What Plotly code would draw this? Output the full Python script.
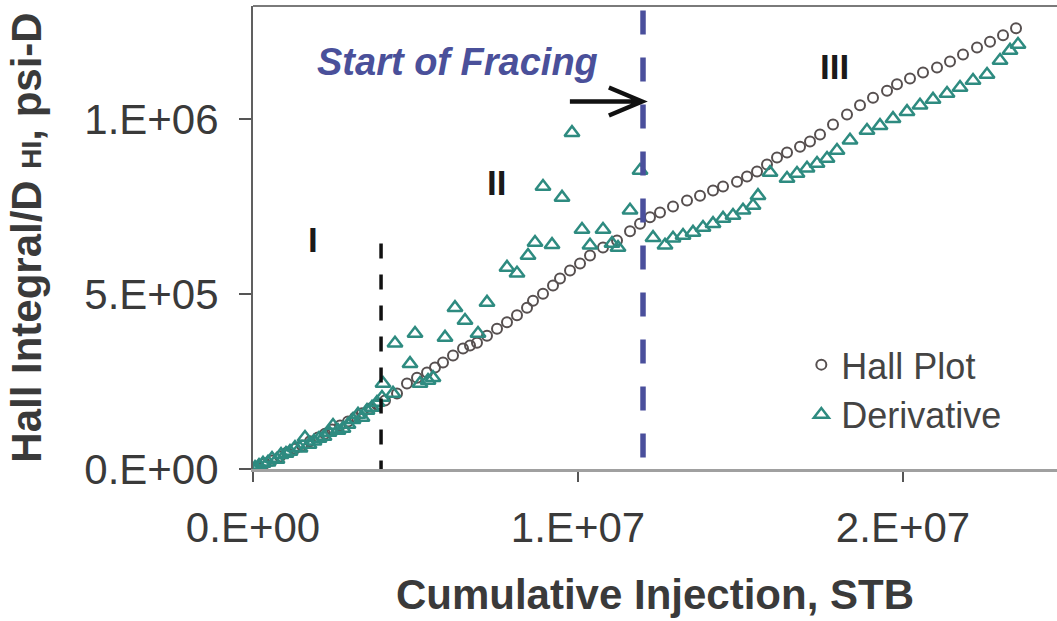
import numpy as np
import plotly.graph_objects as go

# Hall plot: cumulative injection (MMSTB) vs Hall integral (thousand psi-D)
hall_inj_mmstb = [0, 0.154, 0.369, 0.585, 0.831, 1.046, 1.292, 1.508, 1.754, 2.000,
                  2.215, 2.431, 2.677, 2.923, 3.138, 3.354, 3.600, 3.815, 4.062, 4.431,
                  4.738, 5.046, 5.354, 5.600, 5.846, 6.154, 6.462, 6.677, 6.892, 7.200,
                  7.508, 7.815, 8.123, 8.431, 8.615, 8.923, 9.231, 9.446, 9.754, 10.062,
                  10.369, 10.769, 11.200, 11.600, 11.908, 12.215, 12.523, 12.923, 13.354, 13.754,
                  14.154, 14.462, 14.892, 15.200, 15.508, 15.815, 16.123, 16.431, 16.831, 17.138,
                  17.446, 17.846, 18.277, 18.677, 19.077, 19.508, 19.815, 20.215, 20.615, 21.046,
                  21.446, 21.846, 22.277, 22.677, 23.077, 23.477]
hall_integral_k = [0, 7, 16, 24, 36, 47, 58, 67, 79, 90,
                   101, 113, 124, 136, 147, 159, 173, 184, 196, 216,
                   244, 261, 276, 290, 304, 324, 344, 353, 361, 381,
                   401, 419, 439, 461, 481, 501, 524, 544, 567, 587,
                   610, 633, 653, 679, 701, 719, 733, 750, 767, 781,
                   796, 807, 821, 836, 850, 870, 890, 904, 921, 936,
                   956, 984, 1013, 1039, 1061, 1081, 1099, 1116, 1133, 1147,
                   1164, 1184, 1204, 1221, 1239, 1259]

# Derivative of the Hall integral
deriv_inj_mmstb = [0.062, 0.185, 0.308, 0.462, 0.585, 0.738, 0.862, 1.015, 1.138, 1.292,
                   1.446, 1.600, 1.723, 1.877, 2.031, 2.185, 2.338, 2.462, 2.615, 2.769,
                   2.923, 3.077, 3.231, 3.354, 3.508, 3.662, 3.815, 3.969, 4.000,
                   4.308, 4.369, 4.831, 4.985, 5.138, 5.385, 5.538, 5.908, 6.215, 6.523,
                   6.923, 7.200, 7.815, 8.123, 8.462, 8.677, 8.923, 9.200, 9.508, 9.815,
                   10.123, 10.369, 10.769, 11.046, 11.231, 11.600, 11.908,
                   12.308, 12.677, 12.923, 13.231, 13.538, 13.846, 14.154, 14.462, 14.769, 15.077,
                   15.385, 15.538, 15.908, 16.431, 16.738, 17.046, 17.354, 17.662, 17.969, 18.369,
                   18.892, 19.292, 19.692, 20.123, 20.523, 20.923, 21.354, 21.754, 22.154, 22.585,
                   22.985, 23.292, 23.538]
deriv_value_k = [4, 10, 16, 19, 30, 27, 41, 44, 50, 61,
                 59, 90, 70, 79, 87, 93, 104, 124, 110, 116,
                 127, 141, 156, 147, 167, 176, 190, 204, 244,
                 216, 359, 301, 387, 244, 253, 261, 376, 461, 424,
                 387, 476, 576, 559, 610, 647, 807, 641, 776, 961,
                 684, 639, 684, 644, 633, 739, 853,
                 661, 639, 659, 667, 676, 690, 701, 716, 724, 739,
                 753, 781, 847, 830, 844, 859, 873, 887, 910, 939,
                 967, 981, 1001, 1021, 1039, 1056, 1073, 1090, 1110, 1127,
                 1167, 1196, 1213]

x_tick_vals = [0, 1e7, 2e7]
x_tick_text = ["0.E+00", "1.E+07", "2.E+07"]
y_tick_vals = [0, 5e5, 1e6]
y_tick_text = ["0.E+00", "5.E+05", "1.E+06"]

# Regime boundaries (STB) and annotation positions
regime_I_end = 3.94e6
regime_I_line_top = 6.44e5
fracing_start = 1.20e7
fracing_line_top = 1.31e6

FONT = "Liberation Sans, Arial, sans-serif"

fig = go.Figure()
fig.add_trace(go.Scatter(
    x=np.array(hall_inj_mmstb) * 1e6, y=np.array(hall_integral_k) * 1e3,
    mode="markers", name="Hall Plot",
    marker=dict(symbol="circle-open", size=10, color="#575050", line=dict(width=2)),
))
fig.add_trace(go.Scatter(
    x=np.array(deriv_inj_mmstb) * 1e6, y=np.array(deriv_value_k) * 1e3,
    mode="markers", name="Derivative",
    marker=dict(symbol="triangle-up-open", size=13, color="#2e8b80", line=dict(width=2.5)),
))

# dashed boundary lines
fig.add_shape(type="line", xref="x", yref="y", x0=regime_I_end, x1=regime_I_end,
              y0=regime_I_line_top, y1=0, line=dict(color="#111111", width=3.5, dash="15px,16px"),
              layer="above")
fig.add_shape(type="line", xref="x", yref="y", x0=fracing_start, x1=fracing_start,
              y0=fracing_line_top, y1=0, line=dict(color="#4a4f9c", width=5.5, dash="24px,23px"),
              layer="above")
# top frame line
fig.add_shape(type="line", xref="paper", yref="paper", x0=0, x1=1, y0=1, y1=1,
              line=dict(color="#7a7a7a", width=2))

# arrow pointing at the start of fracing
arrow_y = 1.05e6
arrow_tail = 9.75e6
arrow_tip = 11.97e6
arm_x = 10.95e6
fig.add_shape(type="path", xref="x", yref="y",
              path=(f"M {arrow_tail},{arrow_y} L {arrow_tip},{arrow_y} "
                    f"M {arm_x},{arrow_y + 0.04e6} L {arrow_tip},{arrow_y} L {arm_x},{arrow_y - 0.04e6}"),
              line=dict(color="#111111", width=4.5))

fig.add_annotation(x=6.28e6, y=1.163e6, xref="x", yref="y", text="<b><i>Start of Fracing</i></b>",
                   showarrow=False, font=dict(family=FONT, size=38, color="#4a509a"))
for label, lx, ly in [("I", 1.86e6, 6.55e5), ("II", 7.5e6, 8.2e5), ("III", 1.79e7, 1.15e6)]:
    fig.add_annotation(x=lx, y=ly, xref="x", yref="y", text=f"<b>{label}</b>", showarrow=False,
                       font=dict(family=FONT, size=35, color="#1a1a1a"))

fig.update_layout(
    width=1057, height=621,
    margin=dict(l=253, r=0, t=6, b=152),
    paper_bgcolor="white", plot_bgcolor="white",
    font=dict(family=FONT, color="#333333"),
    showlegend=True,
    legend=dict(x=0.682, y=0.29, xanchor="left", yanchor="top",
                bgcolor="rgba(255,255,255,0)", font=dict(size=36, color="#444444"),
                tracegroupgap=0, itemsizing="trace"),
    xaxis=dict(range=[0, 2.4738e7], tickvals=x_tick_vals, ticktext=x_tick_text,
               showgrid=False, zeroline=False, showline=True, linecolor="#a0a0a0", linewidth=3,
               ticks="outside", ticklen=10, tickwidth=1.5, tickcolor="#555555",
               tickfont=dict(size=42, color="#3a3a3a"), ticklabelstandoff=10,
               title=dict(text="<b>Cumulative Injection, STB</b>", font=dict(size=42, color="#3a3a3a"),
                          standoff=30)),
    yaxis=dict(range=[0, 1.3229e6], tickvals=y_tick_vals, ticktext=y_tick_text,
               showgrid=False, zeroline=False, showline=True, linecolor="#606060", linewidth=2,
               ticks="outside", ticklen=12, tickwidth=1.5, tickcolor="#555555",
               tickfont=dict(size=42, color="#3a3a3a"), ticklabelstandoff=12,
               title=dict(text="<b>Hall Integral/D <span style='font-size:28px'>HI</span>, psi-D</b>",
                          font=dict(size=42, color="#3a3a3a"), standoff=30)),
)

fig.write_html("out.html")
